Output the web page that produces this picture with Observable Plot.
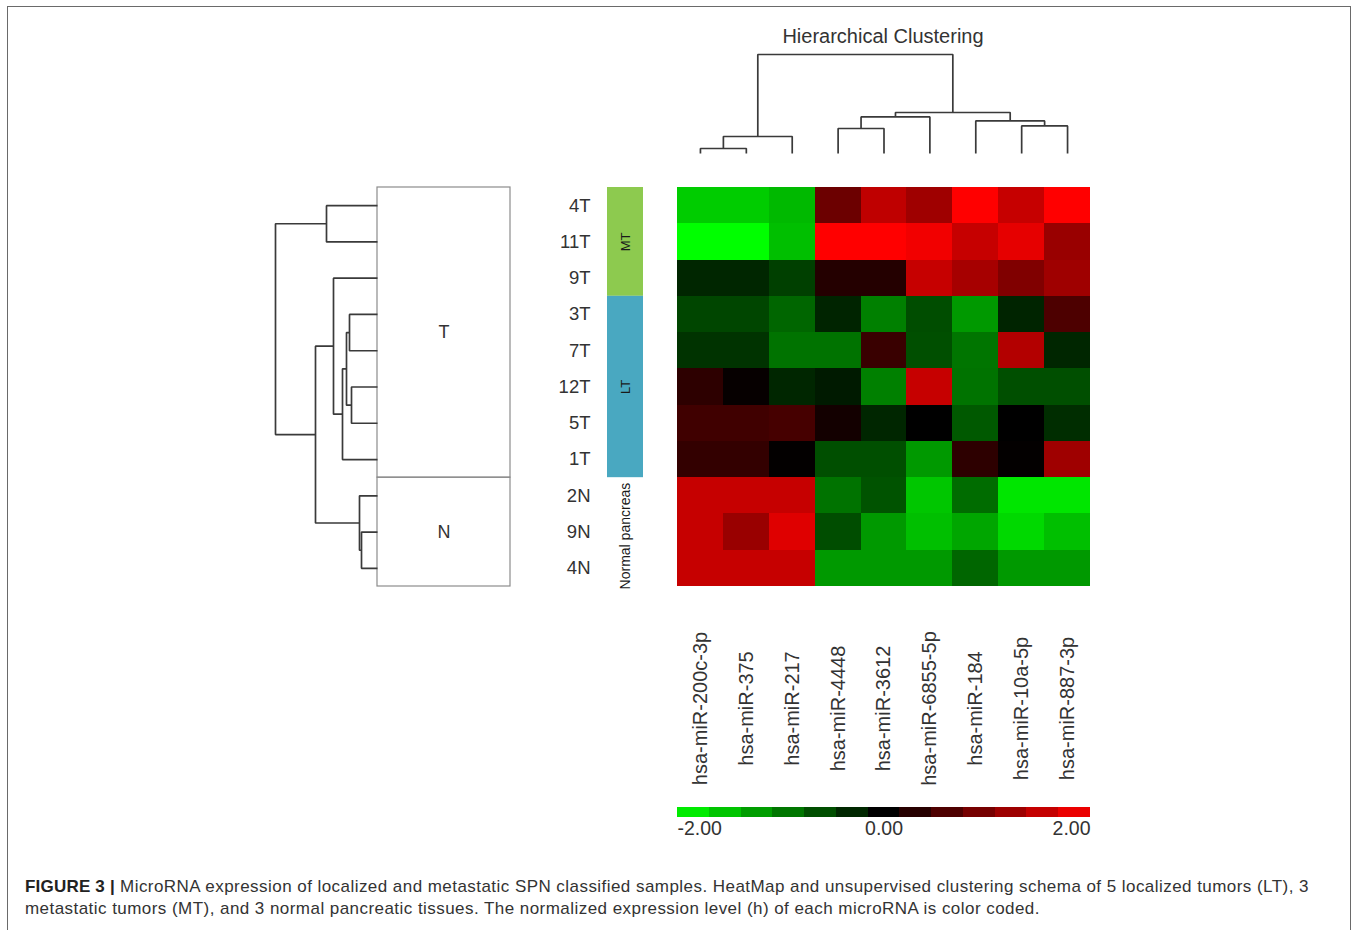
<!DOCTYPE html>
<html><head><meta charset="utf-8">
<script src="https://cdn.jsdelivr.net/npm/d3@7"></script>
<script src="https://cdn.jsdelivr.net/npm/@observablehq/plot@0.6"></script>
<style>
body{margin:0;background:#fff;font-family:"Liberation Sans",Arial,sans-serif;}
#root{position:relative;width:1360px;height:930px;overflow:hidden;background:#fff;}
#root svg{position:absolute;}
#border{position:absolute;left:7px;top:6px;width:1344px;height:960px;border:1.4px solid #6a6a6a;box-sizing:border-box;}
#title{position:absolute;left:733px;width:300px;top:24px;text-align:center;font-size:20px;line-height:24px;color:#333;}
#caption{position:absolute;left:25px;top:876px;font-size:17px;letter-spacing:0.45px;line-height:22px;color:#333;white-space:nowrap;}
#caption b{color:#222;letter-spacing:0.2px;}
</style></head><body>
<div id="root"><div id="border"></div><div id="title">Hierarchical Clustering</div>
<div id="caption"><b>FIGURE 3 |</b> MicroRNA expression of localized and metastatic SPN classified samples. HeatMap and unsupervised clustering schema of 5 localized tumors (LT), 3<br>metastatic tumors (MT), and 3 normal pancreatic tissues. The normalized expression level (h) of each microRNA is color coded.</div>
</div>
<script>
// ---- data ----
const samples = ["4T","11T","9T","3T","7T","12T","5T","1T","2N","9N","4N"];
const mirnas = ["hsa-miR-200c-3p","hsa-miR-375","hsa-miR-217","hsa-miR-4448","hsa-miR-3612","hsa-miR-6855-5p","hsa-miR-184","hsa-miR-10a-5p","hsa-miR-887-3p"];
const h4T  = [-1.6,-1.6,-1.45, 0.85, 1.5, 1.25, 2.0, 1.55, 2.0];
const h11T = [-2.0,-2.0,-1.5, 2.0, 2.0, 1.9, 1.55, 1.8, 1.2];
const h9T  = [-0.3,-0.3,-0.5, 0.28, 0.28, 1.55, 1.3, 1.0, 1.25];
const h3T  = [-0.55,-0.55,-0.8,-0.28,-1.0,-0.6,-1.2,-0.28, 0.6];
const h7T  = [-0.4,-0.4,-0.9,-0.9, 0.45,-0.62,-0.92, 1.4,-0.3];
const h12T = [ 0.35, 0.05,-0.3,-0.2,-1.0, 1.55,-0.9,-0.62,-0.62];
const h5T  = [ 0.5, 0.5, 0.55, 0.15,-0.3, 0.0,-0.7, 0.0,-0.35];
const h1T  = [ 0.4, 0.4, 0.02,-0.62,-0.62,-1.2, 0.35, 0.02, 1.25];
const h2N  = [ 1.55, 1.55, 1.55,-0.9,-0.65,-1.55,-0.85,-1.8,-1.8];
const h9N  = [ 1.55, 1.2, 1.75,-0.6,-1.2,-1.5,-1.3,-1.7,-1.5];
const h4N  = [ 1.55, 1.55, 1.55,-1.2,-1.2,-1.2,-0.8,-1.2,-1.2];
const rowsData = [h4T,h11T,h9T,h3T,h7T,h12T,h5T,h1T,h2N,h9N,h4N];

// dendrogram merges: [childA, childB, height]; internal nodes referenced by prefix+index
const colMerges = [
  ["hsa-miR-200c-3p","hsa-miR-375",5],
  ["c0","hsa-miR-217",17],
  ["hsa-miR-4448","hsa-miR-3612",25],
  ["c2","hsa-miR-6855-5p",36.6],
  ["hsa-miR-10a-5p","hsa-miR-887-3p",27.6],
  ["hsa-miR-184","c4",32.6],
  ["c3","c5",41],
  ["c1","c6",99]
];
const rowMerges = [
  ["4T","11T",51],
  ["3T","7T",28],
  ["12T","5T",26],
  ["r1","r2",31],
  ["r3","1T",35],
  ["9T","r4",44],
  ["9N","4N",16],
  ["2N","r6",18],
  ["r5","r7",62],
  ["r0","r8",102]
];
const rowClusters = ["T","N"];
const rowClusterSizes = [8,3];
const annotGroups = ["MT","LT","Normal pancreas"];
const annotSizes = [3,5,3];
const annotColors = ["#8dca4f","#49a8c1",null];
const legendTicks = [-2,0,2];
const legendSteps = 13;

const colorScale = {type:"linear", domain:[-2,0,2], range:["#00ff00","#000000","#ff0000"], interpolate:"rgb", clamp:true};
const font = "Liberation Sans, Arial, sans-serif";

// ---- derived tables ----
const table = [];
samples.forEach((s,i)=>mirnas.forEach((m,j)=>table.push({sample:s, mirna:m, value:rowsData[i][j]})));

function dendro(merges, leaves, prefix){
  const pos = new Map(leaves.map((l,i)=>[l,{p:i+0.5,h:0}]));
  const pts = [];
  merges.forEach(([a,b,h],i)=>{
    const A = pos.get(a), B = pos.get(b), id = prefix+i;
    pts.push({id,p:A.p,h:A.h},{id,p:A.p,h},{id,p:B.p,h},{id,p:B.p,h:B.h});
    pos.set(id,{p:(A.p+B.p)/2,h});
  });
  return pts;
}
const colPts = dendro(colMerges, mirnas, "c");
const rowPts = dendro(rowMerges, samples, "r");

function spans(names, sizes, extra){
  let s = 0;
  return names.map((n,i)=>{const o={name:n,y1:s,y2:s+sizes[i],...(extra?{color:extra[i]}:{})}; s+=sizes[i]; return o;});
}
const clusterSpans = spans(rowClusters,rowClusterSizes);
const annotSpans = spans(annotGroups,annotSizes,annotColors);

const root = document.getElementById("root");
function place(svg,left,top){svg.style.left=left+"px";svg.style.top=top+"px";root.appendChild(svg);}

// ---- column dendrogram ----
place(Plot.plot({
  width:450, height:140, margin:0, style:{fontFamily:font, background:"transparent"},
  x:{domain:[0,9], range:[17,430], axis:null},
  y:{domain:[0,99], range:[133,34], axis:null},
  marks:[Plot.line(colPts,{x:"p",y:"h",z:"id",stroke:"#3a3a3a",strokeWidth:1.7,strokeLinejoin:"miter",strokeLinecap:"butt"})]
}),660,20);

// ---- row dendrogram + cluster boxes ----
place(Plot.plot({
  width:260, height:420, marginLeft:117, marginRight:10, marginTop:7, marginBottom:14,
  style:{fontFamily:font, background:"transparent"},
  x:{domain:[0,102], range:[117,15], axis:null},
  y:{domain:[0,11], range:[7,406], axis:null},
  marks:[
    Plot.rect(clusterSpans,{y1:"y1",y2:"y2",fill:"none",stroke:"#8c8c8c",strokeWidth:1.2}),
    Plot.text(clusterSpans,{y:d=>(d.y1+d.y2)/2,text:"name",fontSize:18,fill:"#333",lineAnchor:"middle"}),
    Plot.line(rowPts,{x:"h",y:"p",z:"id",stroke:"#3a3a3a",strokeWidth:1.7,strokeLinejoin:"miter",strokeLinecap:"butt"})
  ]
}),260,180);

// ---- heatmap ----
place(Plot.plot({
  width:560, height:620, marginLeft:137, marginRight:10, marginTop:7, marginBottom:214,
  style:{fontFamily:font, background:"transparent"},
  x:{domain:mirnas, padding:0, round:false, axis:null},
  y:{domain:samples, padding:0, round:false, axis:null},
  color:colorScale,
  marks:[
    Plot.cell(table,{x:"mirna",y:"sample",fill:"value",shapeRendering:"crispEdges"}),
    Plot.text(mirnas,{x:d=>d,frameAnchor:"bottom",lineAnchor:"middle",dy:122,rotate:-90,fontSize:20,fill:"#333"}),
    Plot.text(samples,{y:d=>d,frameAnchor:"left",lineAnchor:"middle",dx:-87,textAnchor:"end",fontSize:18.5,fill:"#333"})
  ]
}),540,180);

// ---- annotation bar ----
place(Plot.plot({
  width:50, height:430, marginLeft:7, marginRight:7, marginTop:7, marginBottom:23,
  style:{fontFamily:font, background:"transparent"},
  y:{domain:[0,11], range:[7,406], axis:null},
  marks:[
    ...annotSpans.filter(d=>d.color).map(d=>Plot.rect([d],{y1:"y1",y2:"y2",fill:d.color})),
    Plot.text(annotSpans.filter(d=>d.color),{y:d=>(d.y1+d.y2)/2,text:"name",rotate:-90,lineAnchor:"middle",fontSize:13,fill:"#1a1a1a"}),
    Plot.text(annotSpans.filter(d=>!d.color),{y:d=>(d.y1+d.y2)/2,text:"name",rotate:-90,lineAnchor:"middle",fontSize:14,fill:"#1a1a1a",dy:4})
  ]
}),600,180);

// ---- color legend ----
const stepW = 4/legendSteps;
const steps = Array.from({length:legendSteps},(_,i)=>({lo:-2+i*stepW,hi:-2+(i+1)*stepW}));
const tickText = (v,anchor)=>Plot.text([v],{x:d=>d,text:d=>d.toFixed(2),frameAnchor:"bottom",lineAnchor:"middle",dy:11,textAnchor:anchor,fontSize:19.5,fill:"#333"});
place(Plot.plot({
  width:450, height:50, marginLeft:17, marginRight:20, marginTop:12, marginBottom:28,
  style:{fontFamily:font, background:"transparent"},
  x:{domain:[-2,2], range:[17,430], axis:null},
  color:colorScale,
  marks:[
    Plot.rect(steps,{x1:"lo",x2:"hi",fill:d=>(d.lo+d.hi)/2,shapeRendering:"crispEdges"}),
    tickText(legendTicks[0],"start"),
    tickText(legendTicks[1],"middle"),
    tickText(legendTicks[2],"end")
  ]
}),660,795);
</script>
</body></html>
